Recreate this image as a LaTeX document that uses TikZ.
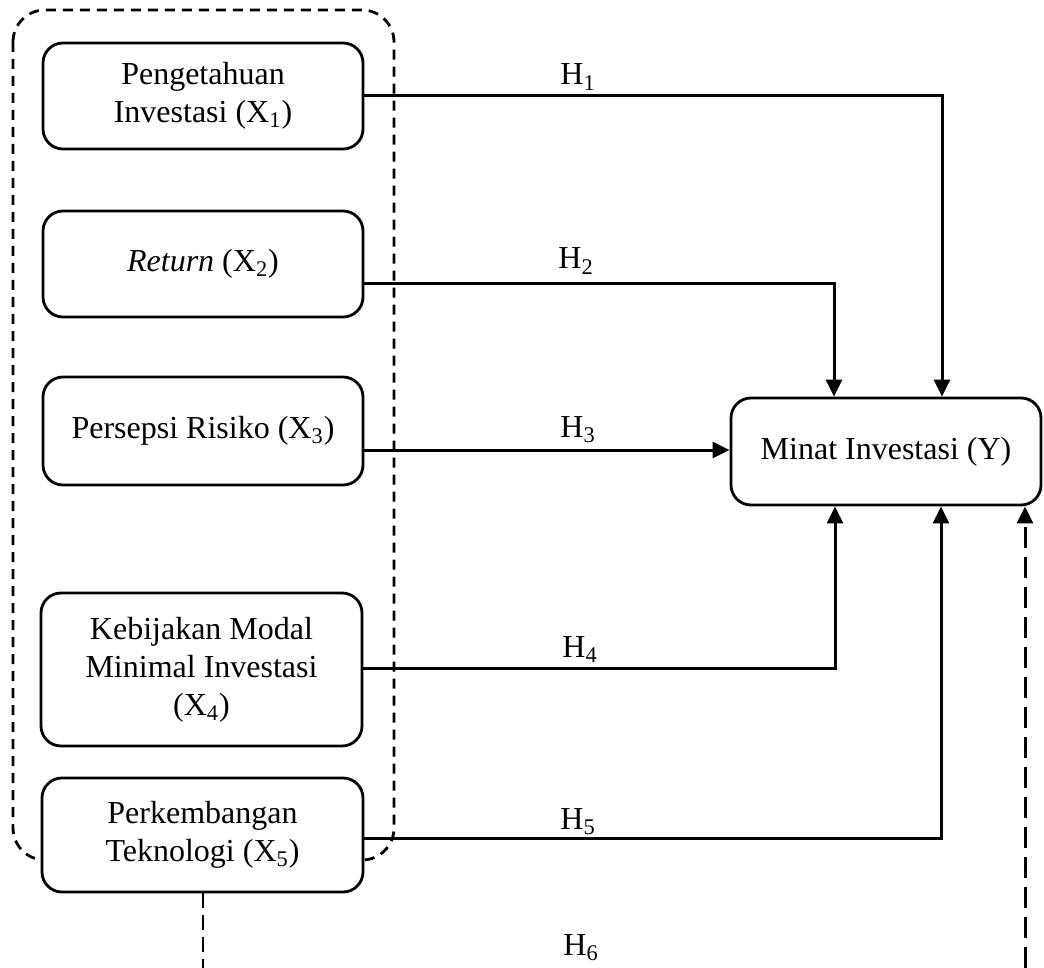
\documentclass[tikz,border=0pt]{standalone}
\usepackage{fontspec}
\setmainfont{Liberation Serif}
\usetikzlibrary{arrows.meta}
\begin{document}
\begin{tikzpicture}[x=0.5pt,y=-0.5pt,
  every node/.style={font=\fontsize{16}{19}\selectfont},
  varbox/.style={draw, line width=1.4pt, rounded corners=10pt, fill=white, align=center, inner sep=0pt},
  arr/.style={line width=1.5pt, -{Triangle[length=8.5pt,width=8pt]}},
  grp/.style={line width=1.4pt, dash pattern=on 5pt off 3.5pt, rounded corners=16pt},
  thindash/.style={line width=0.6pt, dash pattern=on 7.5pt off 3.5pt},
  bigdash/.style={line width=1.5pt, dash pattern=on 10.5pt off 4.5pt, -{Triangle[length=8.5pt,width=8pt]}},
  lab/.style={anchor=base west, inner sep=0pt}
]
\useasboundingbox (0,0) rectangle (1044,968);

% dashed group
\draw[grp] (13,10) rectangle (394,860);

% boxes
\node[varbox, minimum width=160pt, minimum height=53pt] (X1) at (203,96) {Pengetahuan\\Investasi (X\textsubscript{1})};
\node[varbox, minimum width=160pt, minimum height=53pt] (X2) at (203,264) {\textit{Return} (X\textsubscript{2})};
\node[varbox, minimum width=160pt, minimum height=54pt] (X3) at (203,431) {Persepsi Risiko (X\textsubscript{3})};
\node[varbox, minimum width=160.5pt, minimum height=76.5pt] (X4) at (201.5,669.5) {Kebijakan Modal\\Minimal Investasi\\(X\textsubscript{4})};
\node[varbox, minimum width=160.5pt, minimum height=57pt] (X5) at (202.5,835) {Perkembangan\\Teknologi (X\textsubscript{5})};
\node[varbox, minimum width=155pt, minimum height=53.5pt] (Y) at (886,451.5) {Minat Investasi (Y)};

% corner coordinates
\coordinate (k1) at (942,96);
\coordinate (k2) at (834,284);
\coordinate (k3) at (600,450);
\coordinate (k4) at (835,668);
\coordinate (k5) at (941,838);
\coordinate (b6) at (203,968);
\coordinate (e6) at (1025,968);

% connectors
\draw[arr] (X1.east |- k1) -- (k1) -- (Y.north -| k1);
\draw[arr] (X2.east |- k2) -- (k2) -- (Y.north -| k2);
\draw[arr] (X3.east |- k3) -- (Y.west |- k3);
\draw[arr] (X4.east |- k4) -- (k4) -- (Y.south -| k4);
\draw[arr] (X5.east |- k5) -- (k5) -- (Y.south -| k5);
\draw[thindash] (X5.south -| b6) -- (b6);
\draw[bigdash] (e6) -- (Y.south -| e6);

% labels
\node[lab] (h1) at (560,85) {H\textsubscript{1}};
\node[lab] (h2) at (558,269) {H\textsubscript{2}};
\node[lab] (h3) at (560,437) {H\textsubscript{3}};
\node[lab] (h4) at (562,657) {H\textsubscript{4}};
\node[lab] (h5) at (560,829) {H\textsubscript{5}};
\node[lab] (h6) at (563,955) {H\textsubscript{6}};
\end{tikzpicture}
\end{document}
